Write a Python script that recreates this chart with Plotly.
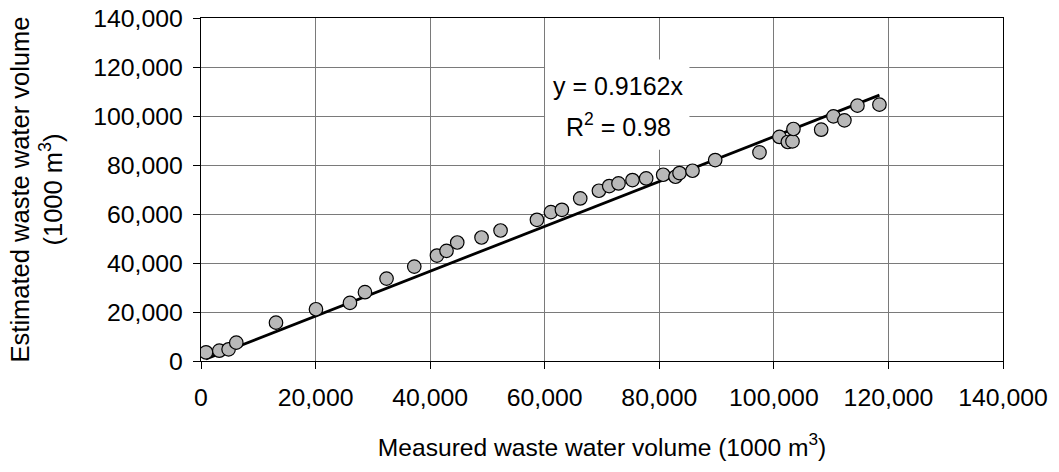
import plotly.graph_objects as go

# Measured (x) and estimated (y) waste water volume, 1000 m3
measured = [873, 3194, 4817, 6161, 13089, 20070, 26000, 28620, 32390, 37230,
            41190, 42860, 44730, 48970, 52290, 58640, 61080, 63000, 66200, 69460,
            71260, 72880, 75320, 77710, 80680, 82830, 83530, 85800, 89760, 97490,
            100980, 102440, 103250, 103420, 108260, 110400, 112320, 114590, 118430]
estimated = [3556, 4210, 4782, 7480, 15655, 21130, 23710, 28080, 33640, 38540,
             43040, 44960, 48360, 50400, 53260, 57630, 60780, 61720, 66340, 69490,
             71410, 72470, 73860, 74520, 76030, 75210, 76720, 77660, 82030, 85140,
             91440, 89390, 89640, 94700, 94400, 99850, 98220, 104220, 104630]

slope = 0.9162
r2 = 0.98
tick_vals = [0, 20000, 40000, 60000, 80000, 100000, 120000, 140000]
tick_text = ["0", "20,000", "40,000", "60,000", "80,000", "100,000", "120,000", "140,000"]

FONT = "Liberation Sans, Arial, sans-serif"

x_line = [min(measured), max(measured)]
y_line = [slope * v for v in x_line]

fig = go.Figure()
fig.add_trace(go.Scatter(
    x=x_line, y=y_line, mode="lines",
    line=dict(color="black", width=2.8), showlegend=False, hoverinfo="skip"))
fig.add_trace(go.Scatter(
    x=measured, y=estimated, mode="markers",
    marker=dict(size=13.5, color="#b8b8b8", line=dict(color="black", width=1.2)),
    showlegend=False))

axis_common = dict(
    range=[0, 140000], tickvals=tick_vals, ticktext=tick_text,
    showgrid=True, gridcolor="#7a7a7a", gridwidth=1,
    zeroline=False, showline=True, linecolor="black", linewidth=1.3,
    mirror=True, ticks="outside", ticklen=7, tickcolor="black", tickwidth=1,
    tickfont=dict(family=FONT, size=24.8, color="black"),
    ticklabeloverflow="allow",
)

fig.update_xaxes(**axis_common, ticklabelstandoff=7,
                 title=dict(text="Measured waste water volume (1000 m<sup>3</sup>)",
                            font=dict(family=FONT, size=24.6, color="black"), standoff=28))
fig.update_yaxes(**axis_common, ticklabelstandoff=5,
                 title=dict(text="Estimated waste water volume<br>(1000 m<sup>3</sup>)",
                            font=dict(family=FONT, size=25.5, color="black"), standoff=23))

# white box behind the equation label
fig.add_shape(type="rect", xref="paper", yref="paper",
              x0=0.429, x1=0.609, y0=0.616, y1=0.879,
              fillcolor="white", line=dict(width=0), layer="above")
fig.add_annotation(xref="paper", yref="paper", x=0.520, y=0.801,
                   xanchor="center", yanchor="middle",
                   text=f"y = {slope:.4f}x", showarrow=False,
                   font=dict(family=FONT, size=25, color="black"))
fig.add_annotation(xref="paper", yref="paper", x=0.520, y=0.689,
                   xanchor="center", yanchor="middle",
                   text=f"R<sup>2</sup> = {r2:.2f}", showarrow=False,
                   font=dict(family=FONT, size=25, color="black"))

fig.update_layout(
    width=1059, height=472,
    margin=dict(l=201, r=56, t=18, b=111, autoexpand=False),
    paper_bgcolor="white", plot_bgcolor="white",
    font=dict(family=FONT, size=24, color="black"),
)

# remove the default 8px page margin so the figure fills the window exactly
fig.write_html("out.html",
               config={"displayModeBar": False},
               post_script="document.body.style.margin='0';document.body.style.overflow='hidden';")
